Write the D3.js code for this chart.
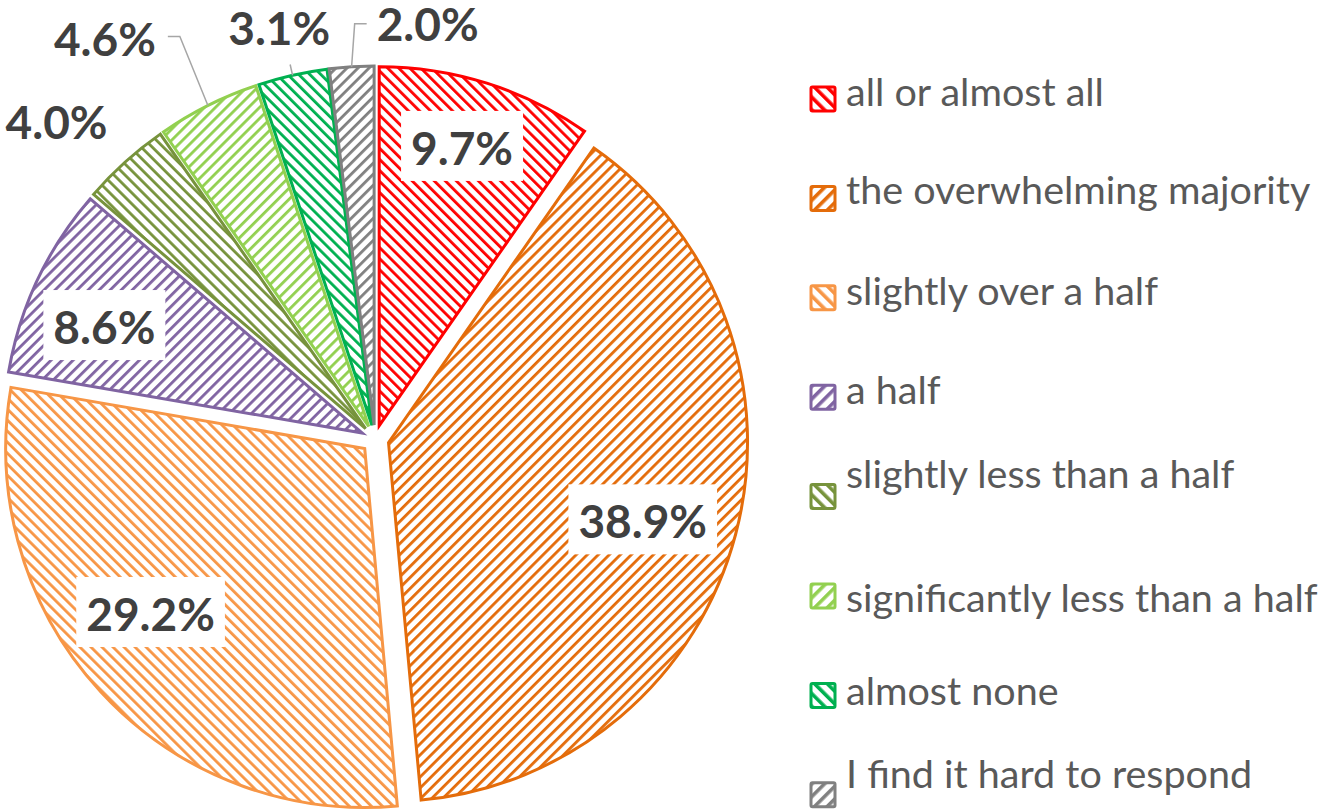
<!DOCTYPE html>
<html>
<head>
<meta charset="utf-8">
<script src="https://cdn.jsdelivr.net/npm/d3@7"></script>
<style>
  body { margin: 0; background: #fff; }
</style>
</head>
<body>
<div id="chart"></div>
<script>
// Data
var categories = [
  "all or almost all",
  "the overwhelming majority",
  "slightly over a half",
  "a half",
  "slightly less than a half",
  "significantly less than a half",
  "almost none",
  "I find it hard to respond"
];
var values = [9.7, 38.9, 29.2, 8.6, 4.0, 4.6, 3.1, 2.0];
var valueLabels = ["9.7%", "38.9%", "29.2%", "8.6%", "4.0%", "4.6%", "3.1%", "2.0%"];

// Styles
var colors = ["#FF0000", "#E46C0A", "#F79646", "#8064A2", "#77933C", "#92D050", "#00B050", "#808080"];
var hatchDir = ["\\", "/", "\\", "/", "\\", "/", "\\", "/"];
var labelInside = [true, true, true, true, false, false, false, false];
var leaderType = ["", "", "", "", "", "elbowRight", "radial", "elbowLeft"];
var labelNudge = [[0, -16], [-13, 6], [-11, -24], [-8, 10], [-37, -4], [-82, -24], [-3, 0], [79, 5]];
var legendTextShift = [7, 6, 7, 7, -9, 16, 10, -7];

var w = 1340;
var h = 810;
var cx = 375, cy = 439;
var radius = 359;
var explode = 14;

var svg = d3.select("#chart")
  .append("svg")
  .attr("width", w)
  .attr("height", h);

// Hatch patterns
var defs = svg.append("defs");
function makePattern(id, color, dir, period, stripe) {
  var p = defs.append("pattern")
    .attr("id", id)
    .attr("patternUnits", "userSpaceOnUse")
    .attr("width", period)
    .attr("height", period)
    .attr("patternTransform", "rotate(" + (dir === "/" ? 45 : -45) + ")");
  p.append("rect").attr("width", period).attr("height", period).attr("fill", "#fff");
  p.append("rect").attr("width", stripe).attr("height", period).attr("fill", color);
}
colors.forEach(function(c, i) {
  makePattern("hatch" + i, c, hatchDir[i], 7.8, 2.8);
  makePattern("lhatch" + i, c, hatchDir[i], 9, 3.6);
});

var pie = d3.pie().sort(null).value(function(d) { return d; });
var arcs = pie(values);
var arc = d3.arc().innerRadius(0).outerRadius(radius);

function dir(a) { return [Math.sin(a), -Math.cos(a)]; }

var g = svg.append("g").attr("transform", "translate(" + cx + "," + cy + ")");

// Slices
g.selectAll(".slice")
  .data(arcs)
  .enter().append("path")
  .attr("class", "slice")
  .attr("transform", function(d) {
    var m = dir((d.startAngle + d.endAngle) / 2);
    return "translate(" + (m[0] * explode) + "," + (m[1] * explode) + ")";
  })
  .attr("d", arc)
  .attr("fill", function(d, i) { return "url(#hatch" + i + ")"; })
  .attr("stroke", function(d, i) { return colors[i]; })
  .attr("stroke-width", 3)
  .attr("stroke-linejoin", "miter");

// Labels
var labelFont = "Lato, 'Open Sans', sans-serif";
arcs.forEach(function(d, i) {
  var mid = (d.startAngle + d.endAngle) / 2;
  var m = dir(mid);
  var lx, ly;
  if (labelInside[i]) {
    var r = explode + radius * 0.77;
    lx = m[0] * r + labelNudge[i][0];
    ly = m[1] * r + labelNudge[i][1];
  } else {
    lx = m[0] * 420 + labelNudge[i][0];
    ly = m[1] * 420 + labelNudge[i][1];
  }

  var lg = g.append("g");
  var txt = lg.append("text")
    .attr("x", lx)
    .attr("y", ly + (labelInside[i] ? 3 : 0) + 16)
    .attr("text-anchor", "middle")
    .style("font-family", labelFont)
    .style("font-weight", "bold")
    .style("font-size", "46px")
    .attr("fill", "#404040")
    .text(valueLabels[i]);

  var tw = txt.node().getComputedTextLength();
  if (labelInside[i]) {
    lg.insert("rect", "text")
      .attr("x", lx - tw / 2 - 10)
      .attr("y", ly - 35)
      .attr("width", tw + 20)
      .attr("height", 70)
      .attr("fill", "#fff");
  }

  // Leader lines
  var edge = explode + radius;
  var p0 = [m[0] * edge, m[1] * edge];
  var pts = null;
  if (leaderType[i] === "elbowRight") {
    var right = lx + tw / 2;
    pts = [p0, [right + 24, ly - 3], [right + 12, ly - 3]];
  } else if (leaderType[i] === "elbowLeft") {
    var left = lx - tw / 2;
    pts = [p0, [left - 22, ly - 1], [left - 10, ly - 1]];
  } else if (leaderType[i] === "radial") {
    pts = [p0, [m[0] * (edge + 11), m[1] * (edge + 11)]];
  }
  if (pts) {
    g.append("path")
      .attr("d", d3.line()(pts))
      .attr("fill", "none")
      .attr("stroke", "#A6A6A6")
      .attr("stroke-width", 1.5);
  }
});

// Legend
var legendTop = 99;
var legendStep = 99.4;
var legend = svg.append("g").attr("transform", "translate(811,0)");
var items = legend.selectAll(".item")
  .data(categories)
  .enter().append("g")
  .attr("class", "item")
  .attr("transform", function(d, i) { return "translate(0," + (legendTop + i * legendStep) + ")"; });

items.append("rect")
  .attr("x", 0)
  .attr("y", -12)
  .attr("width", 24)
  .attr("height", 24)
  .attr("rx", 1.5)
  .attr("fill", function(d, i) { return "url(#lhatch" + i + ")"; })
  .attr("stroke", function(d, i) { return colors[i]; })
  .attr("stroke-width", 3);

items.append("text")
  .attr("x", 35)
  .attr("y", function(d, i) { return legendTextShift[i]; })
  .style("font-family", "Lato, 'Open Sans', sans-serif")
  .style("font-size", "39.5px")
  .attr("fill", "#595959")
  .text(function(d) { return d; });
</script>
</body>
</html>
